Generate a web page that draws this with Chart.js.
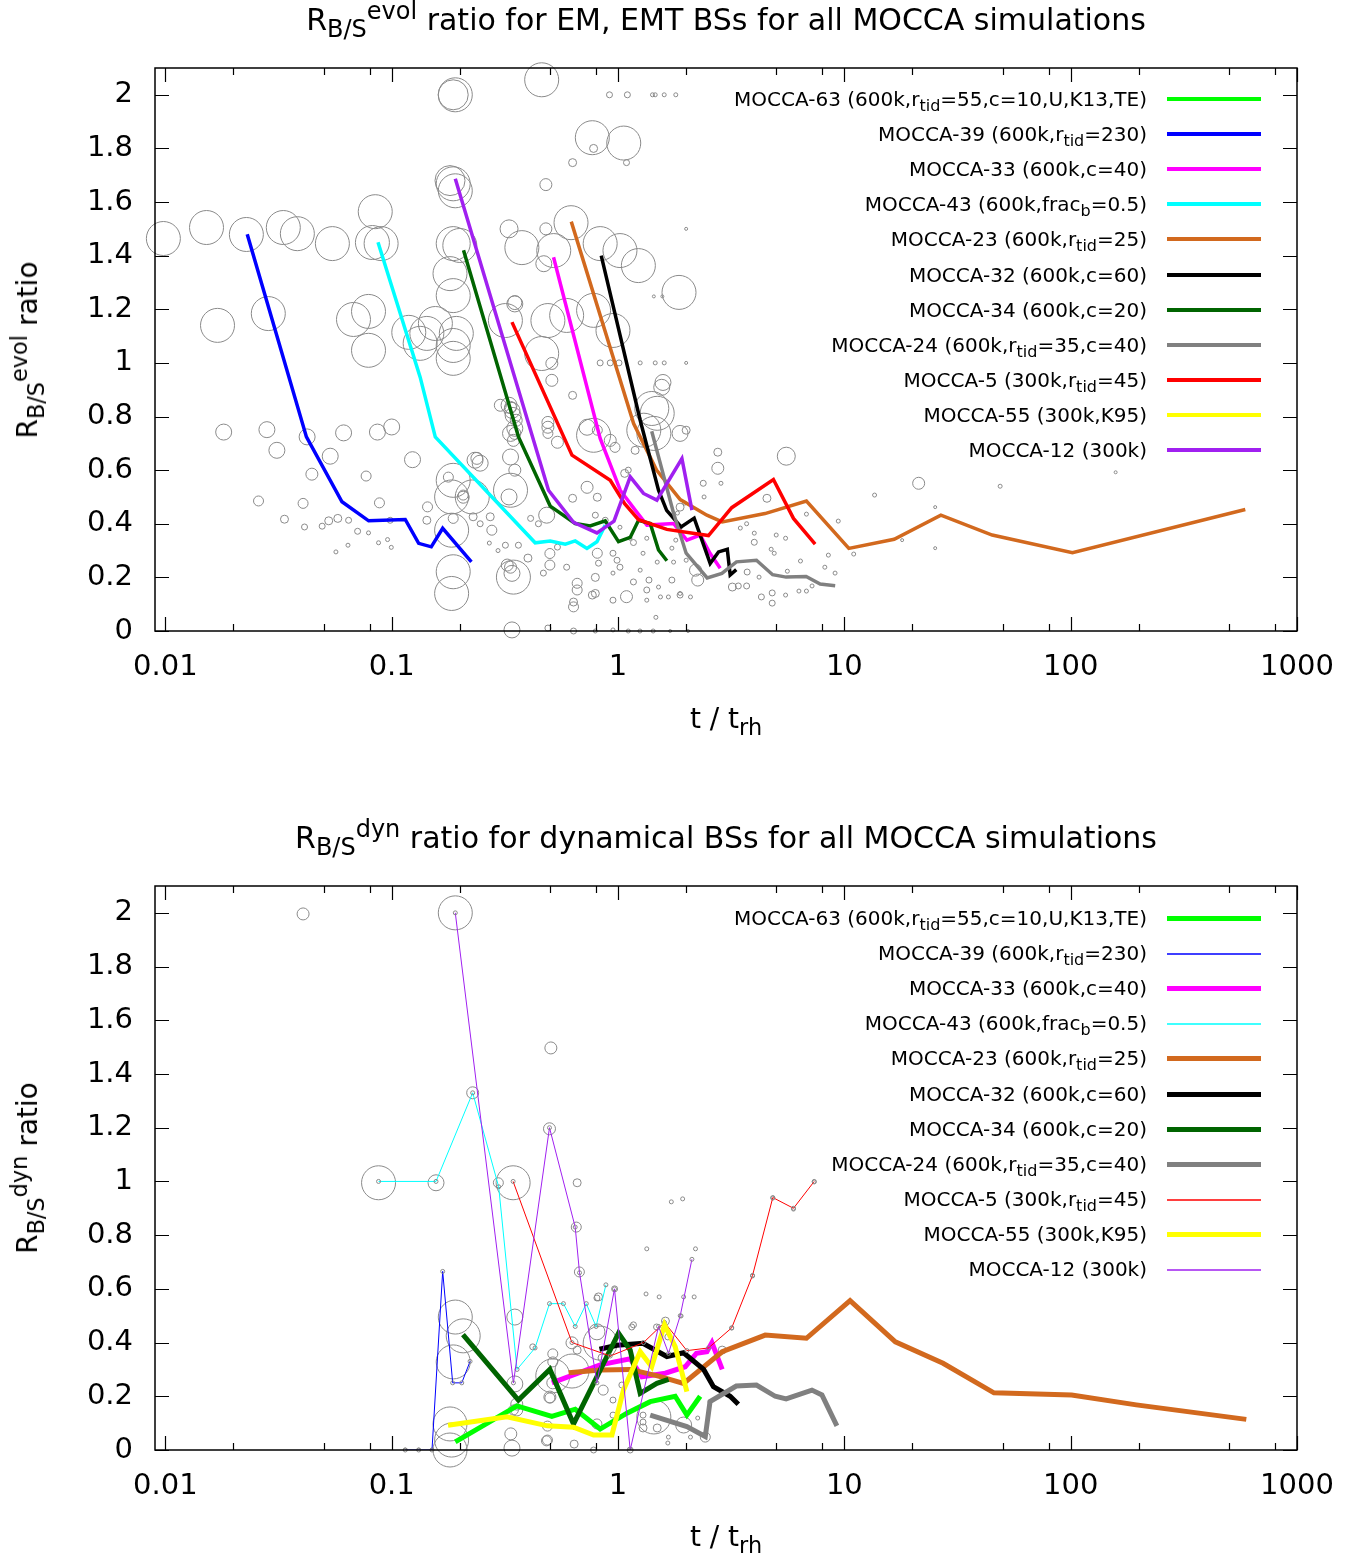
<!DOCTYPE html>
<html>
<head>
<meta charset="utf-8">
<script src="https://cdn.jsdelivr.net/npm/chart.js@4.4.0/dist/chart.umd.min.js"></script>
<style>
body { margin: 0; background: #fff; font-family: "DejaVu Sans", sans-serif; }
#page { position: relative; width: 1366px; height: 1559px; overflow: hidden; }
canvas { position: absolute; left: 0; }
.t { position: absolute; white-space: nowrap; color: #000; line-height: 1; }
.title { left: 155px; width: 1142px; text-align: center; font-size: 30px; }
.xt { left: 155px; width: 1142px; text-align: center; font-size: 28px; }
.yt { font-size: 28px; transform: translate(-50%, -50%) rotate(-90deg); }
sub, sup { font-size: 0.8em; line-height: 0; }
.key { position: absolute; right: 219px; height: 30px; line-height: 30px; font-size: 20px; white-space: nowrap; }
.sample { position: absolute; left: 1167px; width: 94px; }
</style>
</head>
<body>
<div id="page">
  <canvas id="evol" width="1366" height="780" style="top:0"></canvas>
  <canvas id="dyn" width="1366" height="741" style="top:818px"></canvas>

  <div class="t title" style="top:5px">R<sub>B/S</sub><sup>evol</sup> ratio for EM, EMT BSs for all MOCCA simulations</div>
  <div class="t xt" style="top:705px">t / t<sub>rh</sub></div>
  <div class="t yt" style="left:28px;top:350px">R<sub>B/S</sub><sup>evol</sup> ratio</div>

  <div class="t title" style="top:823px">R<sub>B/S</sub><sup>dyn</sup> ratio for dynamical BSs for all MOCCA simulations</div>
  <div class="t xt" style="top:1523px">t / t<sub>rh</sub></div>
  <div class="t yt" style="left:28px;top:1168px">R<sub>B/S</sub><sup>dyn</sup> ratio</div>
</div>

<script>
// axis ticks
const xMajor = [0.01, 0.1, 1, 10, 100, 1000]
const xTickLabels = ['0.01', '0.1', '1', '10', '100', '1000']
const xMinor = [0.02, 0.05, 0.08, 0.2, 0.5, 0.8, 2, 5, 8, 20, 50, 80, 200, 500, 800]
const yTicks = [0, 0.2, 0.4, 0.6, 0.8, 1, 1.2, 1.4, 1.6, 1.8, 2]
const yTickLabels = ['0', '0.2', '0.4', '0.6', '0.8', '1', '1.2', '1.4', '1.6', '1.8', '2']

// legend entries (same order in both panels)
const seriesLabels = [
    'MOCCA-63 (600k,r<sub>tid</sub>=55,c=10,U,K13,TE)',
    'MOCCA-39 (600k,r<sub>tid</sub>=230)',
    'MOCCA-33 (600k,c=40)',
    'MOCCA-43 (600k,frac<sub>b</sub>=0.5)',
    'MOCCA-23 (600k,r<sub>tid</sub>=25)',
    'MOCCA-32 (600k,c=60)',
    'MOCCA-34 (600k,c=20)',
    'MOCCA-24 (600k,r<sub>tid</sub>=35,c=40)',
    'MOCCA-5 (300k,r<sub>tid</sub>=45)',
    'MOCCA-55 (300k,K95)',
    'MOCCA-12 (300k)'
]
const seriesColors = ['#00ff00', '#0000ff', '#ff00ff', '#00ffff', '#d2691e', '#000000',
    '#006400', '#808080', '#ff0000', '#ffff00', '#a020f0']

// R_B/S evol, [t/trh, ratio]
const evolM63 = []
const evolM39 = [[0.023,1.48],[0.042,0.724],[0.0603,0.482],[0.0791,0.411],[0.1148,0.416],[0.1316,0.327],[0.1496,0.314],[0.168,0.383],[0.225,0.258]]
const evolM33 = [[0.519,1.394],[0.834,0.718],[1.023,0.525],[1.191,0.451],[1.342,0.395],[1.759,0.401],[2.015,0.339],[2.307,0.358],[2.554,0.289],[2.828,0.234]]
const evolM43 = [[0.087,1.45],[0.1336,0.947],[0.1558,0.724],[0.4305,0.329],[0.5017,0.336],[0.585,0.324],[0.647,0.336],[0.729,0.308],[0.807,0.333],[0.878,0.395]]
const evolM23 = [[0.6215,1.527],[1.172,0.774],[1.48,0.60],[1.883,0.49],[2.47,0.432],[2.886,0.407],[4.46,0.438],[6.80,0.485],[10.47,0.308],[16.6,0.342],[26.7,0.432],[45.0,0.358],[101.8,0.292],[591,0.453]]
const evolM32 = [[0.843,1.40],[1.253,0.786],[1.51,0.525],[1.64,0.45],[1.90,0.388],[2.17,0.421],[2.554,0.252],[2.78,0.295],[3.04,0.305],[3.13,0.209],[3.33,0.229]]
const evolM34 = [[0.2077,1.42],[0.3634,0.724],[0.5017,0.466],[0.647,0.401],[0.753,0.392],[0.878,0.411],[1.005,0.333],[1.132,0.349],[1.232,0.413],[1.388,0.401],[1.51,0.302],[1.644,0.262]]
const evolM24 = [[1.409,0.745],[1.759,0.44],[2.0,0.29],[2.477,0.198],[2.877,0.215],[3.337,0.258],[4.09,0.264],[4.82,0.21],[5.53,0.201],[6.78,0.203],[7.82,0.175],[9.11,0.169]]
const evolM5 = [[0.340,1.152],[0.626,0.656],[0.924,0.562],[1.07,0.475],[1.232,0.415],[1.644,0.379],[2.51,0.356],[3.18,0.46],[4.86,0.565],[5.96,0.42],[7.43,0.324]]
const evolM55 = []
const evolM12 = [[0.191,1.687],[0.493,0.525],[0.636,0.405],[0.807,0.366],[0.96,0.41],[1.132,0.575],[1.296,0.513],[1.485,0.488],[1.916,0.643],[2.121,0.451]]

// R_B/S dyn, [t/trh, ratio]
const dynM63 = [[0.191,0.03],[0.358,0.164],[0.51,0.125],[0.647,0.152],[0.834,0.078],[1.095,0.137],[1.388,0.18],[1.789,0.20],[2.015,0.13],[2.307,0.20]]
const dynM39 = [[0.1148,0],[0.1316,0],[0.1507,0],[0.168,0.665],[0.186,0.25],[0.204,0.25],[0.222,0.33]]
const dynM33 = [[0.51,0.25],[0.834,0.317],[1.132,0.34],[1.275,0.273],[1.617,0.286],[1.981,0.31],[2.22,0.36],[2.47,0.366],[2.6,0.40],[2.886,0.30]]
const dynM43 = [[0.0875,1.0],[0.157,1.0],[0.228,1.33],[0.297,0.98],[0.358,0.30],[0.43,0.38],[0.498,0.545],[0.574,0.545],[0.647,0.46],[0.724,0.545],[0.80,0.46],[0.884,0.615]]
const dynM23 = [[0.605,0.288],[0.834,0.298],[1.132,0.30],[1.51,0.275],[1.947,0.248],[2.886,0.366],[4.47,0.428],[6.8,0.416],[10.6,0.556],[16.8,0.403],[27.3,0.323],[45.8,0.213],[101,0.205],[195,0.168],[597,0.114]]
const dynM32 = [[0.828,0.375],[0.989,0.39],[1.288,0.397],[1.644,0.348],[1.947,0.362],[2.39,0.30],[2.64,0.236],[3.13,0.20],[3.40,0.17]]
const dynM34 = [[0.2065,0.43],[0.363,0.186],[0.50,0.30],[0.636,0.097],[1.005,0.435],[1.132,0.372],[1.253,0.211],[1.485,0.248],[1.672,0.263]]
const dynM24 = [[1.388,0.13],[2.015,0.087],[2.43,0.05],[2.55,0.18],[3.33,0.238],[4.09,0.242],[4.95,0.20],[5.53,0.19],[7.19,0.223],[7.96,0.205],[9.27,0.09]]
const dynM5 = [[0.344,1.0],[0.626,0.4],[0.924,0.35],[1.296,0.40],[1.605,0.475],[2.015,0.37],[2.51,0.38],[3.18,0.455],[3.93,0.65],[4.83,0.94],[5.96,0.90],[7.36,1.0]]
const dynM55 = [[0.1774,0.092],[0.323,0.124],[0.488,0.09],[0.636,0.085],[0.78,0.056],[0.94,0.056],[1.057,0.223],[1.253,0.366],[1.409,0.31],[1.605,0.466],[1.789,0.385],[2.015,0.217]]
const dynM12 = [[0.191,2.0],[0.345,0.25],[0.498,1.2],[0.647,0.83],[0.676,0.66],[0.807,0.25],[0.965,0.6],[1.132,0.0],[1.51,0.46],[1.672,0.36],[1.883,0.5],[2.121,0.71]]

// single simulation snapshots, [t/trh, ratio, size]
const evolPoints = [
 [0.0098,1.464,17],[0.0152,1.505,17],[0.0228,1.479,17],[0.0332,1.505,17],[0.0383,1.482,17],[0.0547,1.445,17],
 [0.0846,1.564,17],[0.0822,1.449,17],[0.0898,1.445,17],[0.017,1.14,17],[0.0285,1.184,17],[0.0678,1.162,17],
 [0.079,1.192,17],[0.079,1.047,17],[0.119,1.114,17],[0.1336,1.073,17],[0.191,2.0,17],[0.187,2.0,15],
 [0.187,1.668,17],[0.181,1.68,15],[0.191,1.642,17],[0.2,1.438,17],[0.187,1.445,17],[0.181,1.333,17],
 [0.187,1.251,17],[0.193,1.11,17],[0.187,1.065,17],[0.187,1.017,17],[0.143,1.11,17],[0.46,2.056,17],
 [0.77,1.84,17],[1.06,1.82,17],[0.78,1.8,4],[1.09,1.747,3],[0.63,1.747,4],[0.48,1.665,6],[0.62,1.523,17],
 [0.33,1.5,9],[0.48,1.5,6],[0.376,1.43,17],[0.52,1.419,17],[0.834,1.445,17],[1.02,1.419,17],[1.23,1.363,17],
 [1.86,1.263,17],[1.44,1.248,1.5],[1.57,1.248,1.5],[2.0,1.5,1.5],[0.318,1.158,17],[0.35,1.225,7],[0.49,1.158,17],
 [0.593,1.177,17],[0.78,1.196,17],[0.95,1.121,17],[0.46,1.035,17],[0.51,0.998,6],[0.51,0.935,6],[0.35,0.737,6],
 [0.355,0.786,6],[0.335,0.834,6],[0.344,0.804,8],[0.49,0.76,6],[0.54,0.704,6],[0.63,0.879,4],[0.78,0.73,17],
 [1.44,0.737,17],[1.41,0.83,17],[1.58,0.927,8],[1.253,1.0,2],[1.46,1.0,2],[1.6,1.0,2],[0.834,1.0,3],[0.924,1.0,3],
 [1.01,1.0,3],[2.0,1.0,1.5],[1.11,0.6,3],[0.917,2.0,3],[1.1,2.0,3],[1.42,2.0,2],[1.46,2.0,2],[1.6,2.0,2],[1.8,2.0,2],
 [0.0181,0.742,8],[0.0281,0.751,8],[0.0311,0.674,8],[0.0423,0.724,8],[0.0535,0.652,8],[0.0444,0.585,6],
 [0.0613,0.739,8],[0.0865,0.742,8],[0.1,0.761,8],[0.0771,0.578,5],[0.1236,0.639,8],[0.0258,0.485,5],
 [0.0406,0.476,5],[0.0883,0.478,5],[0.0336,0.417,4],[0.0412,0.388,3],[0.0493,0.391,3],[0.0527,0.411,4],
 [0.0578,0.42,4],[0.0645,0.413,3],[0.0707,0.372,3],[0.0567,0.295,2],[0.0641,0.32,2],[0.079,0.366,2],
 [0.0875,0.329,2],[0.0959,0.341,2],[0.0996,0.312,2],[0.0985,0.413,3],[0.143,0.413,4],[0.144,0.463,5],
 [0.184,0.5,17],[0.184,0.376,17],[0.187,0.221,17],[0.184,0.14,17],[0.34,0.004,8],[0.34,0.215,8],[0.324,0.246,6],
 [0.2335,0.637,8],[0.178,0.574,5],[0.207,0.507,5],[0.2725,0.426,4],[0.33,0.5,8],[0.35,0.6,6],[0.335,0.649,8],
 [0.34,0.823,8],[0.35,0.756,8],[0.335,0.737,8],[0.35,1.22,8],[0.47,1.37,8],
 [0.187,0.42,5],[0.229,0.426,4],[0.246,0.4,3],[0.277,0.376,5],[0.318,0.32,3],[0.27,0.328,2],[0.295,0.3,2],
 [0.363,0.32,3],[0.4,0.272,4],[0.411,0.42,3],[0.445,0.4,3],[0.484,0.432,8],[0.5,0.289,5],[0.5,0.246,5],
 [0.468,0.216,3],[0.54,0.313,3],[0.593,0.238,3],[0.66,0.178,5],[0.66,0.153,5],[0.636,0.09,5],[0.636,0.108,4],
 [0.794,0.2,4],[0.794,0.14,4],[0.82,0.253,3],[0.81,0.29,5],[0.95,0.29,3],[0.95,0.216,2],[0.95,0.115,3],
 [1.09,0.128,6],[1.17,0.183,3],[1.253,0.227,2],[1.37,0.19,3],[1.51,0.164,2],[1.67,0.127,2],[1.47,0.051,2],
 [1.88,0.14,2],[2.09,0.127,2],[1.02,0.238,3],[0.99,0.264,3],[1.17,0.33,3],[1.34,0.346,2],[1.29,0.29,2],
 [1.49,0.257,2],[1.76,0.257,2],[2.0,0.264,2],[1.73,0.309,2],[1.8,0.339,2],[1.88,0.384,2],[1.83,0.44,2],
 [1.97,0.477,2],[0.794,0.432,3],[0.878,0.413,3],[1.02,0.387,2],[1.13,0.346,2],
 [0.49,0.011,3],[0.636,0,3],[0.794,0,2],[0.95,0.004,2],[1.11,0,2],[1.25,0,2],[1.43,0,2],[1.7,0,1.5],[2.04,0,1.5],
 [0.33,0.842,8],[0.49,0.778,6],[0.49,0.737,5],[0.73,0.76,8],[0.81,0.749,5],[0.924,0.711,6],[0.97,0.685,5],
 [0.73,0.536,6],[0.81,0.499,4],[0.63,0.495,4],[1.07,0.588,4],[1.19,0.674,4],[1.3,0.749,17],[1.49,0.812,17],
 [1.56,0.909,8],[1.88,0.737,8],[2.0,0.749,4],[1.88,0.462,4],[0.335,0.525,17],[0.227,0.5,17],[0.187,0.562,17],
 [0.246,0.626,8],[0.207,0.499,6],[0.335,0.238,6],[0.345,0.201,17],[0.77,0.134,4],
 [2.76,0.667,4],[2.76,0.607,6],[2.85,0.551,2],[5.54,0.652,9],[4.55,0.495,4],[5.0,0.358,2],[5.5,0.346,2],
 [6.8,0.436,2],[9.4,0.41,2],[8.5,0.283,2],[8.2,0.238,2],[9.1,0.216,2],[6.4,0.261,2],[5.6,0.223,2],[3.72,0.22,3],
 [4.0,0.331,3],[4.0,0.365,2],[4.75,0.305,2],[4.9,0.29,2],[2.38,0.551,3],[2.4,0.5,2],[3.47,0.384,2],[3.7,0.4,2],
 [3.4,0.168,3],[3.2,0.164,4],[3.7,0.168,3],[4.2,0.201,2],[4.3,0.127,3],[4.8,0.142,3],[4.8,0.104,3],[5.5,0.134,2],
 [6.3,0.149,2],[6.8,0.149,2],[7.2,0.168,2],[2.2,0.227,6],[2.25,0.19,6],[1.88,0.134,3],[1.73,0.19,3],
 [1.34,0.153,3],[1.34,0.115,2],[1.54,0.127,2],
 [21.3,0.551,6],[13.6,0.507,2],[48.8,0.54,2],[25.2,0.462,1.5],[158,0.592,1.5],[11.0,0.287,2],[25.2,0.309,1.5],
 [18,0.339,1.5],[0.156,1.147,17],[0.302,0.842,6],[0.345,0.711,6],[0.238,0.644,6]
]
const dynPoints = [
 [0.0406,1.996,6],[0.191,2.0,17],[0.0875,0.995,17],[0.157,0.995,8],[0.228,1.33,6],[0.296,0.995,5],
 [0.344,0.995,17],[0.505,1.497,6],[0.498,1.196,6],[0.66,0.995,4],[0.654,0.83,5],[0.675,0.663,5],[0.807,0.566,3],
 [0.35,0.495,8],[0.191,0.495,17],[0.207,0.425,17],[0.187,0.328,17],[0.35,0.246,8],[0.357,0.171,6],[0.626,0.399,6],
 [0.515,0.358,5],[0.515,0.328,5],[0.515,0.276,17],[0.626,0.294,17],[0.5,0.194,5],[0.488,0.089,5],[0.483,0.034,5],
 [0.64,0.022,4],[0.345,0.149,5],[0.336,0.06,6],[0.34,0.007,8],[0.181,0.097,17],[0.184,0.037,17],[0.181,0,17],
 [0.1148,0,2],[0.1316,0,2],[0.1507,0,2],[0.78,0,3],[0.807,0.097,5],[1.72,0.924,2],[1.93,0.935,2],[1.34,0.749,2],
 [2.2,0.749,2],[0.82,0.57,4],[0.966,0.6,3],[1.33,0.581,2],[1.52,0.57,2],[1.95,0.57,2],[2.17,0.57,2],[1.9,0.499,2],
 [1.62,0.48,4],[1.17,0.466,3],[1.48,0.458,3],[0.834,0.398,17],[0.66,0.372,4],[0.86,0.223,5],[0.95,0.186,3],
 [0.95,0.13,3],[1.04,0.242,3],[1.29,0.13,3],[1.29,0.104,3],[1.44,0.123,17],[1.49,0.082,4],[1.29,0.082,4],
 [1.67,0.048,2],[1.66,0.026,2],[1.95,0.093,8],[2.09,0.048,2],[2.25,0.119,2],[2.43,0.048,5],[2.55,0.179,2],
 [3.18,0.454,2],[2.886,0.372,4],[3.93,0.648,2],[4.83,0.938,2],[5.96,0.897,2],[7.36,0.998,2],[0.5,0.197,6],
 [0.515,0.25,6],[0.357,0.149,6],[0.488,0.037,5],[1.132,0,3],[0.42,0.384,3],[0.807,0.44,8],[0.85,0.343,4],
 [1.15,0.458,3],[1.66,0.421,3]
]

const evolSeries = [evolM63, evolM39, evolM33, evolM43, evolM23, evolM32, evolM34, evolM24, evolM5, evolM55, evolM12]
const dynSeries = [dynM63, dynM39, dynM33, dynM43, dynM23, dynM32, dynM34, dynM24, dynM5, dynM55, dynM12]
const evolWidths = [3.5, 3.5, 3.5, 3.5, 3.5, 3.5, 3.5, 3.5, 3.5, 3.5, 3.5]
const dynWidths = [5, 1, 5, 1, 5, 5, 5, 5, 1, 5, 1]

// border + inward tics like gnuplot
const framePlugin = {
    id: 'frame',
    afterDatasetsDraw(chart) {
        const ctx = chart.ctx
        const a = chart.chartArea
        const xs = chart.scales.x, ys = chart.scales.y
        ctx.save()
        ctx.strokeStyle = '#000'
        ctx.lineWidth = 1.2
        ctx.beginPath()
        const xTic = (v, len) => {
            const p = Math.round(xs.getPixelForValue(v)) + 0.5
            ctx.moveTo(p, a.bottom); ctx.lineTo(p, a.bottom - len)
            ctx.moveTo(p, a.top); ctx.lineTo(p, a.top + len)
        }
        xMajor.forEach(v => xTic(v, 14))
        xMinor.forEach(v => xTic(v, 7))
        yTicks.forEach(v => {
            const p = Math.round(ys.getPixelForValue(v)) + 0.5
            ctx.moveTo(a.left, p); ctx.lineTo(a.left + 14, p)
            ctx.moveTo(a.right, p); ctx.lineTo(a.right - 14, p)
        })
        ctx.stroke()
        ctx.lineWidth = 1.5
        ctx.strokeRect(a.left, a.top, a.right - a.left, a.bottom - a.top)
        ctx.restore()
    }
}

function makeChart(id, series, widths, points, xAxisHeight) {
    const datasets = series.map((d, i) => ({
        type: 'line',
        label: seriesLabels[i],
        data: d.map(p => ({ x: p[0], y: p[1] })),
        borderColor: seriesColors[i],
        borderWidth: widths[i],
        pointRadius: widths[i] < 2 ? 2 : 0,
        pointBorderColor: '#888',
        pointBackgroundColor: 'rgba(0,0,0,0)',
        pointBorderWidth: 1,
        tension: 0,
        fill: false,
        order: 20 - i
    }))
    datasets.push({
        type: 'bubble',
        label: 'snapshots',
        data: points.map(p => ({ x: p[0], y: p[1], r: p[2] })),
        borderColor: '#8a8a8a',
        backgroundColor: 'rgba(0,0,0,0)',
        borderWidth: 1,
        clip: false,
        order: 100
    })

    return new Chart(document.getElementById(id), {
        type: 'scatter',
        data: { datasets: datasets },
        options: {
            responsive: false,
            animation: false,
            devicePixelRatio: 1,
            events: [],
            layout: { padding: { left: 0, top: 68, right: 69, bottom: 0 } },
            plugins: { legend: { display: false }, title: { display: false }, tooltip: { enabled: false } },
            scales: {
                x: {
                    type: 'logarithmic',
                    min: 0.009,
                    max: 1000,
                    bounds: 'data',
                    grid: { display: false, drawTicks: false },
                    border: { display: false },
                    afterBuildTicks: s => { s.ticks = xMajor.map(v => ({ value: v })) },
                    afterFit: s => { s.height = xAxisHeight },
                    ticks: {
                        autoSkip: false,
                        maxRotation: 0,
                        padding: 19,
                        color: '#000',
                        font: { family: 'DejaVu Sans', size: 29 },
                        callback: (v, i) => xTickLabels[i]
                    }
                },
                y: {
                    min: 0,
                    max: 2.1,
                    bounds: 'data',
                    grid: { display: false, drawTicks: false },
                    border: { display: false },
                    afterBuildTicks: s => { s.ticks = yTicks.map(v => ({ value: v })) },
                    afterFit: s => { s.width = 155 },
                    ticks: {
                        autoSkip: false,
                        padding: 22,
                        color: '#000',
                        font: { family: 'DejaVu Sans', size: 29 },
                        callback: (v, i) => yTickLabels[i]
                    }
                }
            }
        },
        plugins: [framePlugin]
    })
}

// html legend, inside the plot like gnuplot's key
function addKey(top0, widths) {
    const page = document.getElementById('page')
    seriesLabels.forEach((lab, i) => {
        const cy = Math.round(top0 + i * 35.1)
        const txt = document.createElement('div')
        txt.className = 'key'
        txt.style.top = (cy - 15) + 'px'
        txt.innerHTML = lab
        page.appendChild(txt)

        const w = Math.max(1, Math.round(widths[i]))
        const line = document.createElement('div')
        line.className = 'sample'
        line.style.top = (cy - Math.floor(w / 2)) + 'px'
        line.style.height = w + 'px'
        line.style.background = seriesColors[i]
        // thin keys sit on a half pixel, as the gnuplot ones do
        if (w === 1) line.style.transform = 'translateY(0.5px) scaleY(1.5)'
        page.appendChild(line)
    })
}

makeChart('evol', evolSeries, evolWidths, evolPoints, 149)
makeChart('dyn', dynSeries, dynWidths, dynPoints, 109)
addKey(99, evolWidths)
addKey(918, dynWidths)
</script>
</body>
</html>
